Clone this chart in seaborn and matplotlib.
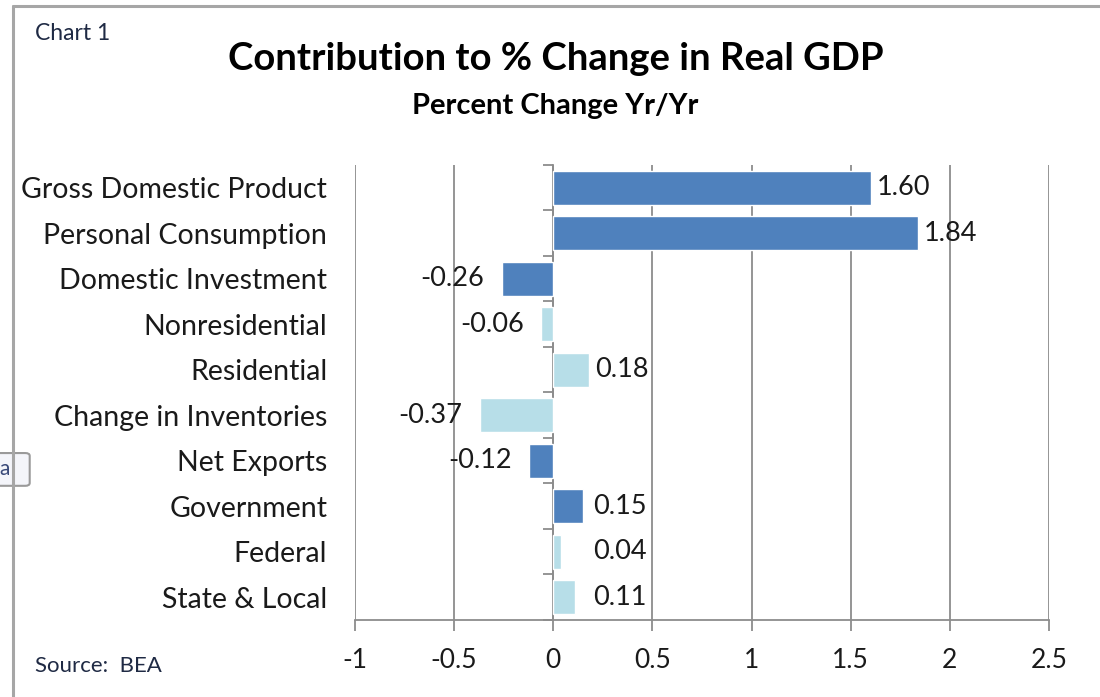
import numpy as np
import pandas as pd
import matplotlib
matplotlib.use("Agg")
import matplotlib.pyplot as plt
import seaborn as sns
from matplotlib.patches import FancyBboxPatch

categories = ["Gross Domestic Product", "Personal Consumption", "Domestic Investment",
              "Nonresidential", "Residential", "Change in Inventories", "Net Exports",
              "Government", "Federal", "State & Local"]
values = [1.60, 1.84, -0.26, -0.06, 0.18, -0.37, -0.12, 0.15, 0.04, 0.11]
level = ["main", "main", "main", "sub", "sub", "sub", "main", "main", "sub", "sub"]
x_ticks = [-1, -0.5, 0, 0.5, 1, 1.5, 2, 2.5]

df = pd.DataFrame({"category": categories, "value": values, "level": level})

sns.set_theme(style="white")
plt.rcParams["font.family"] = ["Lato", "DejaVu Sans"]
text_col = "#1a1a1a"
grid_col = "#8c8c8c"

fig = plt.figure(figsize=(11, 6.97), dpi=100)
ax = fig.add_axes([0.3227, 0.1105, 0.6309, 0.6528])

sns.barplot(data=df, y="category", x="value", hue="level", orient="h",
            palette={"main": "#4F81BD", "sub": "#B7DEE8"}, dodge=False, saturation=1,
            width=0.75, legend=False, ax=ax, order=categories)

ax.set_xlim(-1, 2.5)
ax.set_ylim(len(categories) - 0.5, -0.5)
ax.set_xticks(x_ticks)
ax.set_xticklabels([f"{t:g}" for t in x_ticks], fontsize=19, color=text_col)
ax.tick_params(axis="x", length=8, width=1.3, color=grid_col, pad=12, direction="out",
               bottom=True)
ax.tick_params(axis="y", length=0, pad=20, labelsize=20.5, labelcolor=text_col)
ax.set_xlabel("")
ax.set_ylabel("")
for t in x_ticks:
    ax.axvline(t, color=grid_col, lw=1.3, zorder=0)
for s in ["top", "right", "left"]:
    ax.spines[s].set_visible(False)
ax.spines["bottom"].set_color(grid_col)
ax.spines["bottom"].set_linewidth(1.3)

# category axis crossing at zero, with boundary ticks
zero_pos = (0 - x_ticks[0]) / (x_ticks[-1] - x_ticks[0])
sec = ax.secondary_yaxis(zero_pos)
sec.set_yticks(np.arange(len(categories) + 1) - 0.5)
sec.set_yticklabels([])
sec.tick_params(length=7, width=1.3, color=grid_col, direction="out")
sec.spines["left"].set_color(grid_col)
sec.spines["left"].set_linewidth(1.3)

# value labels
for i, v in enumerate(values):
    if v >= 0:
        ax.text(max(v + 0.03, 0.2), i, f"{v:.2f}", ha="left", va="center",
                fontsize=19.5, color=text_col)
    else:
        ax.text(v - 0.09, i, f"{v:.2f}", ha="right", va="center",
                fontsize=19.5, color=text_col)

fig.text(0.505, 0.915, "Contribution to % Change in Real GDP", ha="center", va="center",
         fontsize=27.5, fontweight="bold", color="black")
fig.text(0.505, 0.848, "Percent Change Yr/Yr", ha="center", va="center",
         fontsize=21, fontweight="bold", color="black")
fig.text(0.032, 0.952, "Chart 1", ha="left", va="center", fontsize=16.5, color="#1f2a44")
fig.text(0.032, 0.045, "Source:  BEA", ha="left", va="center", fontsize=16, color="#1f2a44")

# chart frame
fig.add_artist(plt.Line2D([0.012, 0.012], [0, 0.992], color="#a6a6a6", lw=2.2,
                          transform=fig.transFigure))
fig.add_artist(plt.Line2D([0.012, 1.0], [0.992, 0.992], color="#a6a6a6", lw=2.2,
                          transform=fig.transFigure))

# stray tooltip on the left edge
fig.add_artist(FancyBboxPatch((-0.01, 0.305), 0.035, 0.043,
                              boxstyle="round,pad=0.002,rounding_size=0.004",
                              transform=fig.transFigure, facecolor="#f4f5fa",
                              edgecolor="#9a9a9a", lw=1.5))
fig.text(0.004, 0.327, "a", ha="center", va="center", fontsize=15, color="#3a4a7a")

fig.savefig("out.png", dpi=100, facecolor="white")
